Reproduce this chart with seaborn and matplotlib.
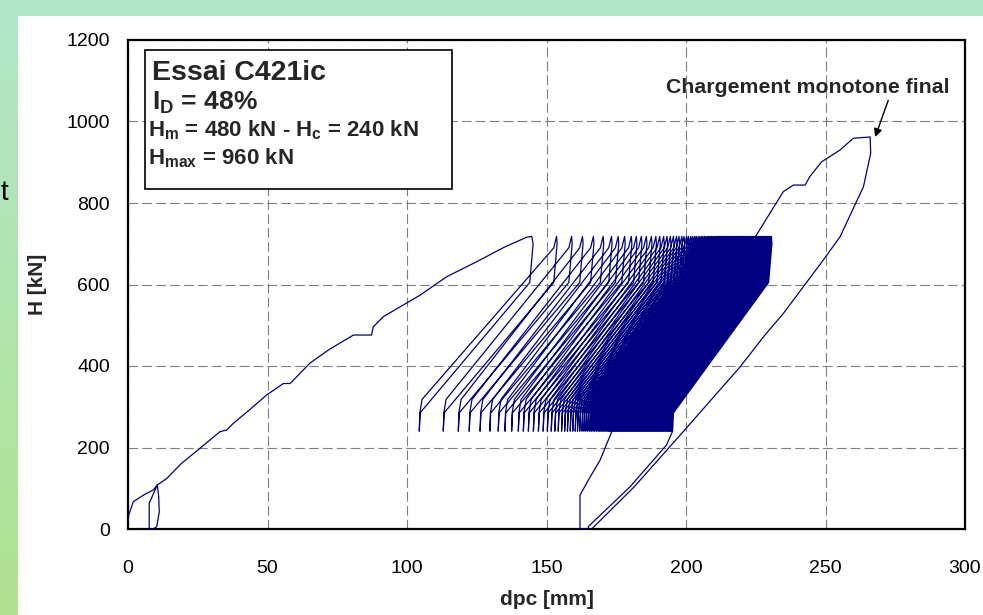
import numpy as np
import pandas as pd
import matplotlib
matplotlib.use("Agg")
import matplotlib.pyplot as plt
from matplotlib.patches import Rectangle
import seaborn as sns

# ---------------- data ----------------
# initial monotonic loading (with the small early unload/reload loop)
init_x = [0.0, 0.3, 1.3, 1.9, 5.5, 9.1, 10.5, 11.0, 11.2, 10.3, 9.1, 7.6, 7.6, 10.5,
          13.9, 19.0, 25.8, 33.0, 35.4, 37.7, 44.0, 49.7, 55.7, 58.1, 65.2, 72.0,
          80.8, 87.3, 87.9, 91.5, 104.7, 114.2, 125.0, 135.0, 142.9, 144.7]
init_H = [18, 35, 55, 67, 83, 96, 108, 80, 42, 6, 0, 0, 63, 108,
          124, 160, 198, 239, 243, 259, 295, 329, 357, 357, 407, 440,
          476, 476, 496, 521, 574, 619, 656, 692, 716, 718]

# cyclic phase: displacement at each peak (H max) and each valley (H min)
peak_x = [145.0, 153.6, 159.0, 162.9, 166.8, 170.3, 173.3, 175.7, 178.0, 180.4,
          182.2, 184.0, 185.8, 187.6, 189.2,
          190.6, 192.0, 193.2, 194.4, 195.5, 196.6, 197.5, 198.5, 199.3, 200.2,
          200.9, 201.7, 202.4, 203.1, 203.7, 204.4, 205.0, 205.6, 206.1, 206.7,
          207.2, 207.8, 208.2, 208.7, 209.1, 209.6, 210.0, 210.5, 210.9,
          211.2, 211.5, 211.9, 212.2, 212.6, 212.9, 213.2, 213.6, 213.9, 214.3,
          214.6, 214.9, 215.3, 215.6, 216.0, 216.3, 216.6, 217.0, 217.3, 217.7,
          218.0, 218.3, 218.7, 219.0, 219.4, 219.7, 220.0, 220.4, 220.7, 221.1,
          221.4, 221.7, 222.1, 222.4, 222.8, 223.1, 223.4, 223.8, 224.1, 224.5,
          224.8, 225.1, 225.5, 225.8, 226.2, 226.5, 226.8, 227.2, 227.5, 227.9,
          228.2, 228.5, 228.9, 229.2, 229.6, 229.9, 230.2, 230.6]
valley_x = [104.4, 113.0, 118.4, 122.3, 126.2, 129.7, 132.7, 135.1, 137.5, 139.9,
            141.7, 143.5, 145.3, 147.1, 148.8,
            150.3, 151.7, 153.0, 154.2, 155.4, 156.5, 157.5, 158.5, 159.4, 160.3,
            161.1, 161.9, 162.7, 163.4, 164.1, 164.8, 165.5, 166.1, 166.7, 167.3,
            167.9, 168.5, 169.0, 169.5, 170.0, 170.5, 171.0, 171.5, 172.0,
            172.4, 172.8, 173.2, 173.6, 174.0, 174.4, 174.8, 175.2, 175.6, 176.0,
            176.4, 176.8, 177.2, 177.6, 178.0, 178.4, 178.8, 179.2, 179.6, 180.0,
            180.4, 180.8, 181.2, 181.6, 182.0, 182.4, 182.8, 183.2, 183.6, 184.0,
            184.4, 184.8, 185.2, 185.6, 186.0, 186.4, 186.8, 187.2, 187.6, 188.0,
            188.4, 188.8, 189.2, 189.6, 190.0, 190.4, 190.8, 191.2, 191.6, 192.0,
            192.4, 192.8, 193.2, 193.6, 194.0, 194.4, 194.8, 195.2]
H_max_cyc = 718
H_min_cyc = 240

# end of test: unload to zero, reload, final monotonic loading and unloading
end_x = [193.0, 180.0, 165.0, 165.0, 162.0, 162.0, 165.0, 169.2, 173.4, 200.0,
         225.3, 234.9, 238.5, 242.7, 244.4, 248.6, 255.2, 260.0, 266.0,
         266.2, 263.6, 255.2, 249.2, 234.9, 228.3, 219.4, 198.5, 181.5, 166.2]
end_H = [206, 104, 6, 0, 0, 83, 120, 169, 239, 470,
         722, 828, 844, 844, 865, 901, 930, 959, 962,
         922, 840, 717, 660, 529, 476, 398, 235, 104, 0]

# ---------------- build the path ----------------
xs, hs = list(init_x), list(init_H)
for i in range(len(peak_x)):
    P, B = peak_x[i], valley_x[i]
    # unloading branch (steep start, straight middle, steep end)
    xs += [P + 0.2, P - 0.3, P - 1.0, B + 0.3, B]
    hs += [700, 660, 605, 285, H_min_cyc]
    if i + 1 < len(peak_x):
        Pn = peak_x[i + 1]
        # reloading branch
        xs += [B + 0.2, B + 1.0, Pn - 1.0, Pn]
        hs += [285, 318, 690, H_max_cyc]
xs += end_x
hs += end_H
df = pd.DataFrame({"dpc": xs, "H": hs})

# ---------------- figure ----------------
sns.set_style("white")
plt.rcParams["font.family"] = ["Liberation Sans", "DejaVu Sans"]
plt.rcParams["mathtext.fontset"] = "custom"
plt.rcParams["mathtext.rm"] = "Liberation Sans"
plt.rcParams["mathtext.bf"] = "Liberation Sans:bold"
plt.rcParams["lines.scale_dashes"] = False

W, Hh = 983, 615
fig = plt.figure(figsize=(W / 100, Hh / 100), dpi=100, facecolor="white")

# slide background frame (green strips)
fig.add_artist(Rectangle((0, 1 - 16 / Hh), 1, 16 / Hh, transform=fig.transFigure,
                         facecolor="#b3e6c9", edgecolor="none", zorder=0))
bg = fig.add_axes([0, 0, 18 / W, 1])
grad = np.linspace(0, 1, 256)[:, None, None]
top_c = np.array([0.70, 0.90, 0.79])
bot_c = np.array([0.69, 0.885, 0.57])
img = top_c * (1 - grad) + bot_c * grad
bg.imshow(img, aspect="auto", extent=[0, 1, 0, 1], origin="upper")
bg.axis("off")
fig.text(0.5 / W, 1 - 200 / Hh, "t", fontsize=20, color="black", ha="left", va="baseline")

ax = fig.add_axes([128 / W, (Hh - 529) / Hh, (965 - 128) / W, (529 - 40) / Hh])
ax.set_facecolor("white")

sns.lineplot(data=df, x="dpc", y="H", sort=False, estimator=None, ax=ax,
             color="#000080", linewidth=0.9, zorder=3)

ax.set_xlim(0, 300)
ax.set_ylim(0, 1200)
ax.set_xticks([0, 50, 100, 150, 200, 250, 300])
ax.set_yticks([0, 200, 400, 600, 800, 1000, 1200])
ax.grid(True, color="#7f7f7f", linestyle=(0, (7, 3)), linewidth=0.8, zorder=1)
ax.set_axisbelow(True)
for s in ax.spines.values():
    s.set_visible(True)
    s.set_color("black")
    s.set_linewidth(1.6)
ax.tick_params(axis="both", direction="inout", length=10, width=1.0,
               labelsize=14, colors="black")
ax.tick_params(axis="y", pad=8)
ax.tick_params(axis="x", pad=17)

ax.set_xlabel("dpc [mm]", fontsize=15, fontweight="bold")
ax.set_ylabel("H [kN]", fontsize=15, fontweight="bold")
ax.xaxis.set_label_coords(0.5, -0.125)
ax.yaxis.set_label_coords(-0.097, 0.5)

# info box
ax.add_patch(Rectangle((145 / W, 1 - 189 / Hh), (452 - 145) / W, (189 - 50) / Hh,
                       transform=fig.transFigure, facecolor="white",
                       edgecolor="black", linewidth=1.2, zorder=5))
def ftxt(px, py, s, size):
    fig.text(px / W, 1 - py / Hh, s, fontsize=size, fontweight="bold",
             ha="left", va="baseline", zorder=6)
ftxt(152, 80, "Essai C421ic", 20.5)
ftxt(152, 110, r"$\mathbf{I_D}$ = 48%", 19)
ftxt(148, 136, r"$\mathbf{H_m}$ = 480 kN - $\mathbf{H_c}$ = 240 kN", 16)
ftxt(148, 164, r"$\mathbf{H_{max}}$ = 960 kN", 16)

# annotation
ax.text(243.5, 1070, "Chargement monotone final", fontsize=15.3, fontweight="bold",
        ha="center", va="baseline", zorder=6)
ax.annotate("", xy=(267.8, 962), xytext=(272.5, 1052),
            arrowprops=dict(arrowstyle="-|>", color="black", lw=1.0,
                            mutation_scale=12, shrinkA=0, shrinkB=0), zorder=6)

fig.savefig("out.png", dpi=100, facecolor="white")
